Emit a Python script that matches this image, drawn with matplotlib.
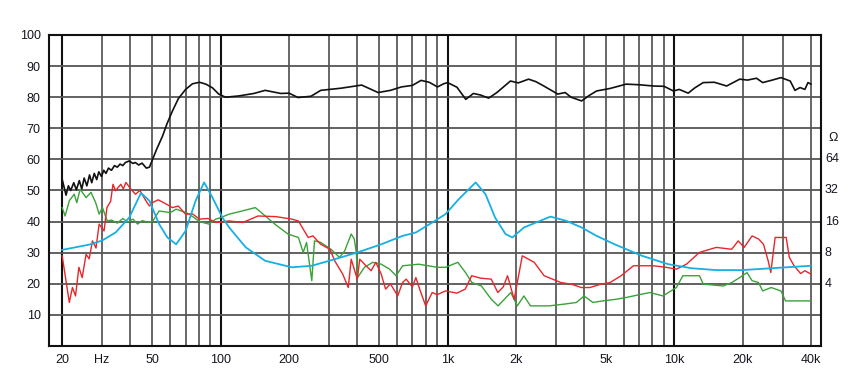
import matplotlib
matplotlib.use("Agg")
import matplotlib.pyplot as plt
import numpy as np

plt.rcParams['font.family'] = ['Liberation Sans', 'DejaVu Sans']

# SPL on axis (black)
spl_f = [20, 20.8, 21.3, 21.8, 22.5, 23.1, 23.8, 24.4, 25, 25.7, 26.4, 27, 27.7, 28.4, 29, 29.8, 30.5,
         31.2, 32, 33, 34, 35, 36, 37, 38, 39.5, 41, 42, 43.5, 45, 47,
         48.5, 52, 55.4, 58, 61.2, 65, 70, 75, 80.6, 86, 92, 98, 105, 120, 140, 157, 184, 200, 219,
         250, 276, 340, 418, 494, 560, 626, 700, 764, 830, 903, 960, 1000, 1100, 1203, 1300, 1397,
         1517, 1650, 1893, 2050, 2276, 2450, 2656, 3060, 3300, 3500, 3900, 4200, 4540, 5200, 6130,
         7000, 8070, 9000, 9900, 10500, 11500, 12300, 13400, 15000, 17000, 19400, 21000, 23000,
         24500, 27000, 29500, 32400, 34000, 35800, 37600, 38800, 40000]
spl_db = [53.6, 48.5, 51.5, 50, 52.5, 50.2, 53.2, 50.5, 54, 51.5, 55, 52.5, 55.5, 53.5, 56, 54.5, 56.5,
          55.5, 57.2, 56.5, 58, 57.5, 58.5, 58, 59, 59.5, 58.7, 59, 58.2, 58.8, 57.2,
          57.5, 63, 67.5, 71.5, 75.5, 79.5, 82.5, 84.3, 84.8, 84.2, 83, 81, 80,
          80.4, 81.2, 82.2, 81.2, 81.3, 79.9, 80.3, 82.2, 82.9, 83.9, 81.5, 82.2, 83.3, 83.8, 85.4,
          84.8, 83.3, 84.3, 84.7, 83.2, 79.3, 81.2, 80.7, 79.7, 81.5, 85.2, 84.6, 85.8, 85, 83.6, 81,
          81.5, 80, 78.8, 80.5, 82, 82.8, 84.2, 84, 83.6, 83.5, 82, 82.5, 81.3, 83, 84.7, 84.8, 83.6,
          85.8, 85.5, 86.1, 84.7, 85.5, 86.3, 85.2, 82.2, 83.1, 82.5, 84.7, 84.2]

# off-axis response (red)
red_f = [20, 21.5, 22.2, 22.9, 23.7, 24.5, 25.5, 26.3, 27.2, 28.2, 29.1, 30.6, 31.5, 32.7, 33.5, 34.4, 35.3,
         36.3, 37.2, 38.2, 40.2, 42.1, 44, 46.8, 48.5, 50, 53, 57, 61.2, 65, 70, 75, 80.6, 88, 95.1,
         109, 125, 146, 175, 206, 220, 243, 255, 276, 303, 318, 345, 365, 376, 400, 410, 437, 460,
         483, 510, 533, 560, 603, 633, 657, 700, 725, 760, 801, 856, 900, 979, 1100, 1197, 1277,
         1400, 1558, 1665, 1760, 1838, 1966, 2135, 2410, 2665, 3160, 3500, 3890, 4240, 4700, 5200,
         5800, 6600, 8070, 9200, 10200, 11300, 12900, 15300, 17900, 19100, 20300, 22000, 23500,
         24700, 25900, 26600, 27800, 31100, 32100, 33700, 36000, 37600, 40000]
red_db = [29, 14, 18.8, 16.1, 25.3, 22, 29.5, 28, 33.8, 31.5, 39.2, 37, 44.5, 46.5, 52, 49.9, 51,
          52, 50.5, 52.6, 50.4, 48.8, 50, 46.7, 45, 46.1, 47, 45.8, 44.5, 45, 42.4, 42.5, 40.8, 41,
          39.7, 40.2, 39.7, 41.8, 41.6, 40.8, 40.2, 34.9, 35.4, 32.7, 31.1, 27.4, 23.1, 18.8, 27.9,
          21.5, 27.9, 25.8, 24.2, 26.9, 23.1, 18.3, 20, 16.1, 20.4, 21.5, 19, 22, 17.5, 12.9, 17.2,
          16.5, 17.7, 17, 18.3, 22.6, 21.8, 21.5, 17.2, 19, 22.6, 15, 29, 26.9, 22.6, 20.4, 19.9,
          18.8, 18.8, 19.8, 20.4, 22.5, 25.8, 25.8, 25.3, 24.7, 26.3, 30.1, 31.7, 31.1, 33.8, 31.7,
          35.4, 34.4, 32.7, 27.4, 23.6, 34.9, 34.9, 28.5, 25.8, 23.3, 24.2, 23.1]

# 2nd harmonic / distortion (green)
grn_f = [20, 20.6, 21.5, 22.6, 23.2, 24, 25.5, 26.8, 28.1, 29.1, 30.1, 31.6, 33, 35, 37, 39, 41, 43, 45,
         48, 50, 53.5, 60, 63.6, 70, 72.6, 80, 83.5, 88.6, 95.1, 100, 109, 124, 142, 151, 173, 198,
         220, 231, 239, 252, 259, 276, 306, 334, 352, 376, 388, 396, 401, 430, 468, 510, 555, 593,
         634, 746, 903, 979, 1110, 1200, 1280, 1410, 1560, 1670, 1900, 2030, 2170, 2320, 2800, 3300,
         3700, 4000, 4370, 4840, 5500, 6130, 7000, 7800, 8900, 10200, 10900, 12900, 13400, 16400,
         17900, 19400, 20900, 22000, 23500, 24500, 26700, 29500, 30900, 35000, 40000]
grn_db = [44.5, 41.8, 46.7, 48.8, 46.1, 50.4, 47.7, 49.4, 46.1, 42.4, 44.5, 40.2, 40.5, 39.5, 41, 39.8,
          40.8, 39.2, 40.3, 39.8, 40, 43.4, 42.9, 44, 42.9, 42.4, 40.2, 39.7, 39.2, 40.8, 41.3, 42.4,
          43.4, 44.5, 42.9, 39.2, 36, 34.9, 30.1, 33.3, 21, 33.8, 33.3, 31.1, 28.5, 30.6, 36, 34.4,
          30, 22, 25.3, 26.9, 26.3, 24.7, 22.6, 25.8, 26.3, 25.3, 25.3, 26.9, 23.6, 20.4, 19.3, 15,
          12.9, 17.2, 12.9, 16.1, 12.9, 12.9, 13.5, 14, 16.1, 14, 14.5, 15, 15.6, 16.5, 17.2, 16.1,
          18.8, 22.6, 22.6, 19.9, 19.3, 20.4, 22, 23.6, 21, 20.4, 17.7, 18.8, 17.7, 14.5, 14.5, 14.5]

# impedance (cyan), plotted on the dB scale
imp_f = [20, 26.3, 30, 34.4, 39.5, 44.5, 48.5, 53.5, 58.2, 63.6, 70, 77.5, 84.5, 92, 101.7, 109, 129, 157,
         206, 252, 318, 401, 510, 633, 725, 856, 979, 1120, 1330, 1470, 1620, 1800, 1930, 2170,
         2840, 3350, 3900, 4540, 5450, 7200, 9400, 11900, 15300, 19800, 23000, 40000]
imp_db = [30.9, 32.6, 33.9, 36.5, 41.3, 49.2, 46.7, 39.2, 34.9, 32.7, 37, 46.7, 52.6, 47.7, 41.3, 38.1, 31.7,
          27.4, 25.3, 25.8, 27.9, 30.1, 32.7, 35.4, 36.5, 39.7, 42.4, 47.2, 52.6, 48.8, 41.3, 36,
          34.9, 38.1, 41.6, 40.2, 38.1, 35.4, 32.7, 29, 26.3, 25, 24.4, 24.4, 24.7, 25.8]

x_labels = ['20', 'Hz', '50', '100', '200', '500', '1k', '2k', '5k', '10k', '20k', '40k']
x_label_pos = [20, 30, 50, 100, 200, 500, 1000, 2000, 5000, 10000, 20000, 40000]
ohm_labels = ['4', '8', '16', '32', '64']

fig = plt.figure(figsize=(8.54, 3.91), dpi=100)
ax = fig.add_axes([0.0574, 0.1151, 0.9040, 0.7954])
ax.set_xscale('log')
ax.set_xlim(17.5, 44300)
ax.set_ylim(0, 100)

# grid
grid_f = list(range(20, 100, 10)) + list(range(200, 1000, 100)) + list(range(2000, 10000, 1000)) + [20000, 30000, 40000]
for f in grid_f:
    ax.axvline(f, color='#5a5a5a', lw=1.3, zorder=1)
for f in [20, 100, 1000, 10000]:
    ax.axvline(f, color='#111111', lw=1.5, zorder=1)
for y in range(10, 100, 10):
    ax.axhline(y, color='#555555', lw=1.3, zorder=1)

ax.plot(spl_f, spl_db, color='#111111', lw=1.2, zorder=3)
ax.plot(grn_f, grn_db, color='#3aa23a', lw=1.0, zorder=3)
ax.plot(red_f, red_db, color='#e8262a', lw=1.0, zorder=4)
ax.plot(imp_f, imp_db, color='#16b0e2', lw=1.3, zorder=5)

ax.set_xticks(x_label_pos)
ax.set_xticklabels(x_labels)
ax.xaxis.set_minor_locator(matplotlib.ticker.NullLocator())
ax.set_yticks(range(10, 101, 10))
ax.tick_params(length=0, labelsize=9, colors='#151520', pad=6)
for s in ax.spines.values():
    s.set_linewidth(1.5)
    s.set_color('#111111')

# right impedance scale
for y, lab in zip(range(20, 61, 10), ohm_labels):
    ax.text(1.005, y / 100, lab, transform=ax.transAxes, ha='left', va='center', fontsize=9, color='#151520')
ax.text(1.01, 0.668, 'Ω', transform=ax.transAxes, ha='left', va='center', fontsize=9, color='#151520')

fig.savefig('out.png', dpi=100, facecolor='white')
